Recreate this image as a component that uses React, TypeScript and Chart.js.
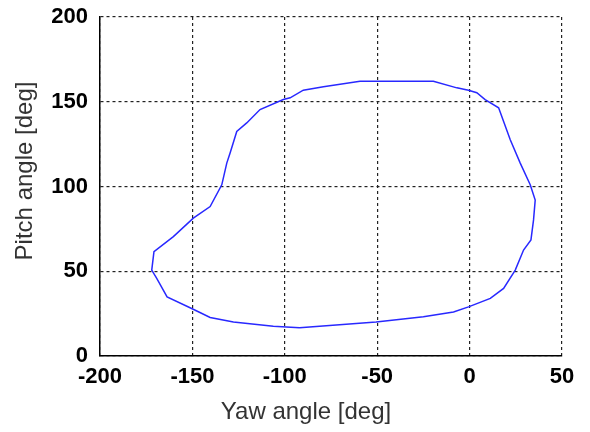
import React, { useEffect, useRef } from "react";
import { Chart, registerables } from "chart.js";

Chart.register(...registerables);

const yawDeg: number[] = [
  -92, -50.6, -25, -8.7, -0.6, 11.2, 18.4, 24.7, 29.2, 33.2, 34.6, 35.5, 32.8, 27.4, 22, 15.7, 8.4, 3.9, -0.6, -6.9,
  -19.6, -50.3, -59.3, -79.1, -90, -97.1, -100.8, -113.4, -120.6, -126, -129.6, -131.4, -134.1, -140.4, -149.5,
  -160.3, -170.8, -172, -169.3, -163.7, -150.4, -140.4, -127.8, -106.2, -92,
];
const pitchDeg: number[] = [
  16.7, 20.1, 23.1, 26, 29, 34, 39.9, 50.7, 62.5, 68.5, 80.3, 92, 101, 113.8, 127.6, 146.4, 151.3, 155.3, 156.8, 158.2,
  162.1, 162.1, 162.1, 158.8, 156.8, 152.3, 151.3, 145.4, 137.5, 132.5, 119.8, 113.8, 101, 88.2, 81.3,
  70.4, 61.5, 50.7, 45.8, 34.9, 28, 22.7, 20.1, 17.6, 16.7,
];
const xTitle = "Yaw angle [deg]";
const yTitle = "Pitch angle [deg]";
const xRange = [-200, 50];
const yRange = [0, 200];

export default function App() {
  const ref = useRef<HTMLCanvasElement>(null);
  useEffect(() => {
    if (!ref.current) return;
    const titlePlugin = {
      id: "axisTitles",
      afterDraw(chart: any) {
        const ctx = chart.ctx;
        ctx.save();
        ctx.fillStyle = "#333333";
        ctx.font = "24px 'Liberation Sans', Arial, sans-serif";
        ctx.textAlign = "center";
        ctx.textBaseline = "middle";
        ctx.fillText(xTitle, 306, 412);
        ctx.translate(25, 171);
        ctx.rotate(-Math.PI / 2);
        ctx.fillText(yTitle, 0, 0);
        ctx.restore();
      },
    };
    const chart = new Chart(ref.current, {
      type: "scatter",
      data: {
        datasets: [
          {
            data: yawDeg.map((x, i) => ({ x, y: pitchDeg[i] })),
            showLine: true,
            borderColor: "rgb(40,40,255)",
            borderWidth: 1.5,
            pointRadius: 0,
            fill: false,
            tension: 0,
          },
        ],
      },
      options: {
        animation: false,
        responsive: false,
        maintainAspectRatio: false,
        layout: { padding: { left: 0, top: 17, right: 28, bottom: 0 } },
        plugins: { legend: { display: false }, tooltip: { enabled: false } },
        scales: {
          x: {
            type: "linear",
            min: xRange[0],
            max: xRange[1],
            ticks: {
              stepSize: 50,
              color: "#000",
              padding: 8,
              font: { family: "'Liberation Sans', Arial, sans-serif", size: 22, weight: "bold" },
            },
            grid: { color: "#222", lineWidth: 1.2, drawTicks: false },
            border: { display: true, color: "#000", width: 1.5, dash: [3, 3] },
            afterFit: (s: any) => {
              s.height = 76;
              s.paddingLeft = 0;
              s.paddingRight = 0;
            },
          },
          y: {
            type: "linear",
            min: yRange[0],
            max: yRange[1],
            ticks: {
              stepSize: 50,
              color: "#000",
              padding: 12,
              font: { family: "'Liberation Sans', Arial, sans-serif", size: 22, weight: "bold" },
            },
            grid: { color: "#222", lineWidth: 1.2, drawTicks: false },
            border: { display: true, color: "#000", width: 1.5, dash: [3, 3] },
            afterFit: (s: any) => {
              s.width = 100;
              s.paddingTop = 0;
              s.paddingBottom = 0;
            },
          },
        },
      },
      plugins: [titlePlugin],
    });
    return () => chart.destroy();
  }, []);
  return (
    <div style={{ position: "fixed", left: 0, top: 0, width: 590, height: 432, background: "#fff" }}>
      <canvas ref={ref} width={590} height={432} style={{ width: 590, height: 432 }} />
    </div>
  );
}
